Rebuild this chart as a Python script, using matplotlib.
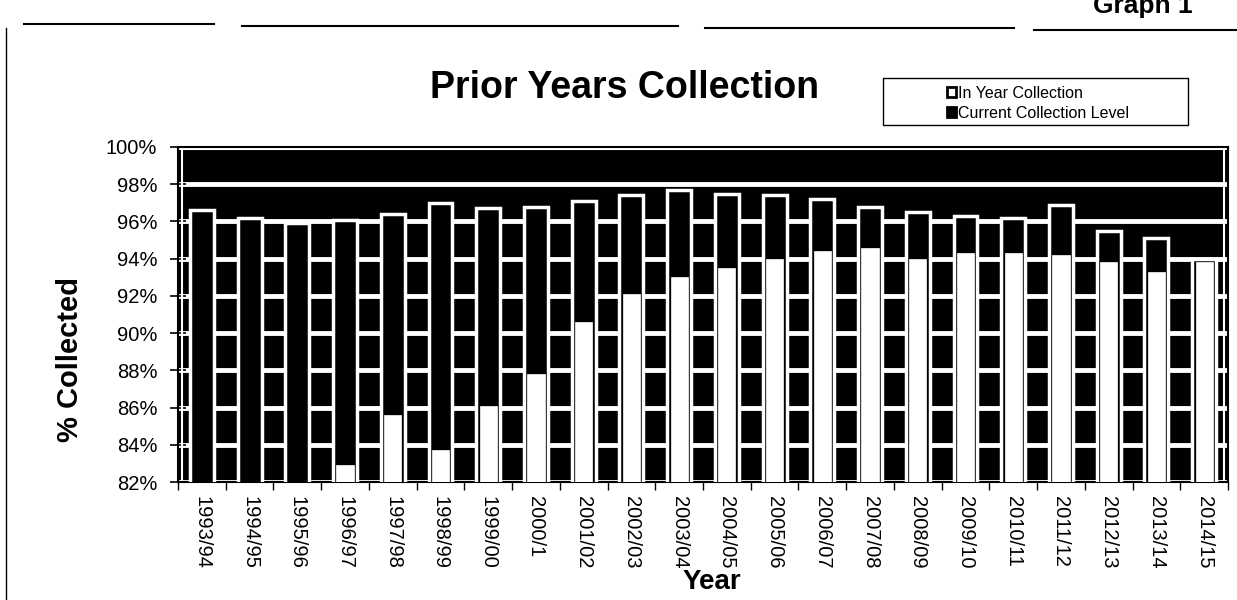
import numpy as np
import matplotlib
matplotlib.use("Agg")
import matplotlib.pyplot as plt
from matplotlib.patches import Patch, Rectangle
from matplotlib.lines import Line2D
from matplotlib.ticker import FuncFormatter, FixedLocator

plt.rcParams['font.family'] = ['Liberation Sans', 'DejaVu Sans']

years = ["1993/94", "1994/95", "1995/96", "1996/97", "1997/98", "1998/99", "1999/00",
         "2000/1", "2001/02", "2002/03", "2003/04", "2004/05", "2005/06", "2006/07",
         "2007/08", "2008/09", "2009/10", "2010/11", "2011/12", "2012/13", "2013/14",
         "2014/15"]
current_level = [96.6, 96.2, 95.9, 96.1, 96.4, 97.0, 96.7, 96.8, 97.1, 97.4, 97.7,
                 97.5, 97.4, 97.2, 96.8, 96.5, 96.3, 96.2, 96.9, 95.5, 95.1, 94.0]
in_year = [np.nan, np.nan, np.nan, 82.9, 85.6, 83.7, 86.1, 87.8, 90.6, 92.1, 93.0,
           93.5, 94.0, 94.4, 94.6, 94.0, 94.3, 94.3, 94.2, 93.8, 93.3, 93.8]
y_ticks = [82, 84, 86, 88, 90, 92, 94, 96, 98, 100]

W, H = 1237, 600
fig = plt.figure(figsize=(W / 100, H / 100), dpi=100)
fig.patch.set_facecolor("white")

L, R, T, B = 178, 1228, 147, 482
ax = fig.add_axes([L / W, 1 - B / H, (R - L) / W, (B - T) / H])
ax.set_facecolor("black")

x = np.arange(len(years))
ax.bar(x, current_level, width=0.5, color="black", edgecolor="white",
       linewidth=2.5, zorder=3)
ax.bar(x, in_year, width=0.36, color="white", edgecolor="white",
       linewidth=0.5, zorder=4)

ax.set_ylim(82, 100)
ax.set_xlim(-0.5, len(years) - 0.5)

# white inner frame of plot area
ax.add_patch(Rectangle((0.004, -0.01), 0.992, 1.004, transform=ax.transAxes,
                       facecolor="none", edgecolor="white", linewidth=1.5,
                       zorder=2))

ax.yaxis.set_major_locator(FixedLocator(y_ticks))
ax.yaxis.set_major_formatter(FuncFormatter(lambda v, p: f"{v:.0f}%"))
ax.grid(axis="y", color="white", linewidth=3.5, zorder=1)
ax.set_axisbelow(True)

ax.set_xticks(x)
ax.set_xticklabels(years, rotation=270, fontsize=14.5, va="top", ha="center")
ax.set_xticks(np.arange(len(years) + 1) - 0.5, minor=True)
ax.tick_params(axis="x", which="major", length=0, pad=10)
ax.tick_params(axis="x", which="minor", length=6, width=1, color="black",
               direction="out")
ax.tick_params(axis="y", which="major", length=12, width=1.2, direction="inout",
               labelsize=14.5, pad=9)

for s in ax.spines.values():
    s.set_color("black")
    s.set_linewidth(1.5)

fig.text(70 / W, 1 - 360 / H, "% Collected", fontsize=21, fontweight="bold",
         rotation=90, ha="center", va="center")
fig.text(712 / W, 1 - 582 / H, "Year", fontsize=20, fontweight="bold",
         ha="center", va="center")
fig.text(625 / W, 1 - 88 / H, "Prior Years Collection", fontsize=27,
         fontweight="bold", ha="center", va="center")

# legend box
fig.patches.append(Rectangle((883 / W, 1 - 125 / H), (1188 - 883) / W, 47 / H,
                             transform=fig.transFigure, facecolor="white",
                             edgecolor="black", linewidth=1))
handles = [Patch(facecolor="white", edgecolor="black", linewidth=2,
                 label="In Year Collection"),
           Patch(facecolor="black", edgecolor="black", linewidth=2,
                 label="Current Collection Level")]
fig.legend(handles=handles, loc="upper left",
           bbox_to_anchor=(934 / W, 1 - 73 / H), frameon=False, fontsize=11.5,
           handlelength=0.55, handleheight=0.55, handletextpad=0.15,
           labelspacing=0.3, borderpad=0.3)

# page decoration lines at top
for (x0, x1), yy in zip([(24, 214), (242, 678), (705, 1014), (1034, 1237)],
                        [24, 26, 28, 30]):
    fig.add_artist(Line2D([x0 / W, x1 / W], [1 - yy / H, 1 - yy / H],
                          transform=fig.transFigure, color="black", linewidth=1.5))
fig.add_artist(Line2D([6 / W, 6 / W], [1 - 28 / H, 0], transform=fig.transFigure,
                      color="black", linewidth=1))
fig.text(1143 / W, 1 - 13 / H, "Graph 1", fontsize=19, fontweight="bold",
         ha="center", va="baseline")

fig.savefig("out.png", dpi=100)
